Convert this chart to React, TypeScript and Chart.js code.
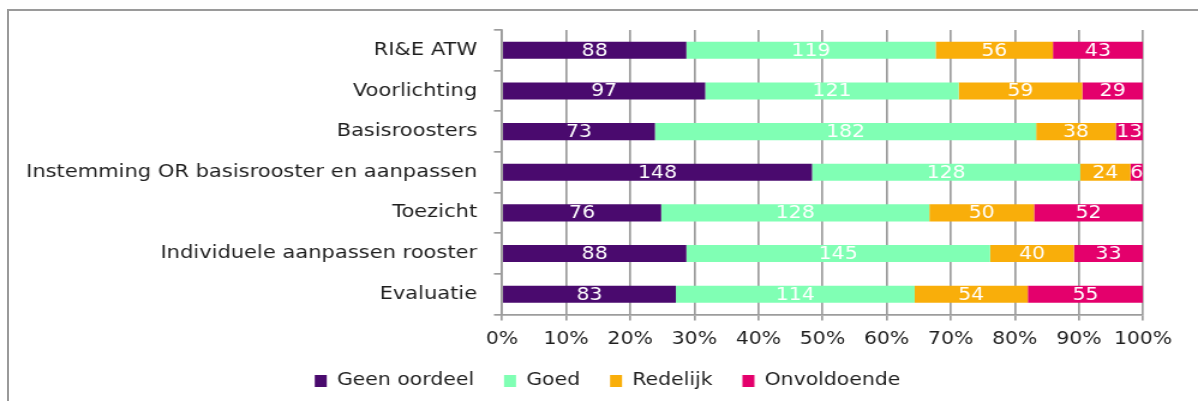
import React, { useEffect, useRef } from 'react';
import { Chart, registerables } from 'chart.js';

Chart.register(...registerables);

// ---- data ----
const categories = [
  'RI&E ATW',
  'Voorlichting',
  'Basisroosters',
  'Instemming OR basisrooster en aanpassen',
  'Toezicht',
  'Individuele aanpassen rooster',
  'Evaluatie',
];
const geenOordeel = [88, 97, 73, 148, 76, 88, 83];
const goed = [119, 121, 182, 128, 128, 145, 114];
const redelijk = [56, 59, 38, 24, 50, 40, 54];
const onvoldoende = [43, 29, 13, 6, 52, 33, 55];
const seriesNames = ['Geen oordeel', 'Goed', 'Redelijk', 'Onvoldoende'];
const seriesColors = ['#4A0A6E', '#80FFB4', '#F9AE0A', '#E4006C'];
const xTickLabels = ['0%', '10%', '20%', '30%', '40%', '50%', '60%', '70%', '80%', '90%', '100%'];

const rawSeries = [geenOordeel, goed, redelijk, onvoldoende];

// ---- layout constants (canvas is drawn narrower and stretched horizontally) ----
const FULL_W = 1198;
const H = 401;
const W = 998;
const S = FULL_W / W;
const FONT = '"DejaVu Sans", sans-serif';
const TEXT = '#1e1e1e';
const GRID = '#9c9c9c';

const valueLabels = {
  id: 'valueLabels',
  afterDatasetsDraw(chart: any) {
    const ctx = chart.ctx;
    ctx.save();
    ctx.font = `17px ${FONT}`;
    ctx.fillStyle = '#ffffff';
    ctx.textAlign = 'center';
    ctx.textBaseline = 'middle';
    chart.data.datasets.forEach((_ds: any, di: number) => {
      const meta = chart.getDatasetMeta(di);
      meta.data.forEach((bar: any, i: number) => {
        const p = bar.getProps(['x', 'y', 'base'], true);
        ctx.fillText(String(rawSeries[di][i]), (p.x + p.base) / 2, p.y + 1);
      });
    });
    ctx.restore();
  },
};

// shift the legend so it is centred on the whole picture, not on the padded box
const legendShift = {
  id: 'legendShift',
  afterLayout(chart: any) {
    const lg = chart.legend;
    if (!lg) return;
    const dx = 30;
    lg.left += dx;
    lg.right += dx;
  },
};

export default function App() {
  const ref = useRef<HTMLCanvasElement | null>(null);

  useEffect(() => {
    if (!ref.current) return;
    const totals = categories.map((_, i) => rawSeries.reduce((s, arr) => s + arr[i], 0));
    const chart = new Chart(ref.current, {
      type: 'bar',
      data: {
        labels: categories,
        datasets: rawSeries.map((arr, di) => ({
          label: seriesNames[di],
          data: arr.map((v, i) => (v / totals[i]) * 100),
          backgroundColor: seriesColors[di],
          borderWidth: 0,
          barPercentage: 0.42,
          categoryPercentage: 1,
        })),
      },
      options: {
        indexAxis: 'y',
        responsive: false,
        animation: false,
        events: [],
        layout: { padding: { top: 30, right: W - 1143 / S, bottom: 1.5, left: 0 } },
        plugins: {
          tooltip: { enabled: false },
          title: { display: false },
          legend: {
            position: 'bottom',
            align: 'center',
            labels: {
              boxWidth: 10,
              boxHeight: 12,
              padding: 25,
              color: TEXT,
              font: { family: FONT, size: 17 },
            },
          },
        },
        scales: {
          x: {
            stacked: true,
            min: 0,
            max: 100,
            ticks: {
              stepSize: 10,
              padding: 9,
              maxRotation: 0,
              minRotation: 0,
              autoSkip: false,
              color: TEXT,
              font: { family: FONT, size: 17 },
              callback: (_v: any, i: number) => xTickLabels[i],
            },
            grid: {
              display: true,
              drawOnChartArea: true,
              drawTicks: true,
              color: GRID,
              lineWidth: 1.7,
              tickLength: 6,
            },
            border: { display: true, color: GRID, width: 1.7 },
            afterFit: (s: any) => {
              s.height = 33;
            },
          },
          y: {
            stacked: true,
            ticks: {
              padding: 14,
              color: TEXT,
              font: { family: FONT, size: 17.5 },
            },
            grid: { drawOnChartArea: false, drawTicks: true, color: GRID, lineWidth: 1.7, tickLength: 6.7 },
            border: { display: true, color: GRID, width: 1.7 },
            afterFit: (s: any) => {
              s.width = 502 / S;
            },
          },
        },
      },
      plugins: [valueLabels, legendShift],
    } as any);
    return () => chart.destroy();
  }, []);

  return (
    <div
      style={{
        position: 'absolute',
        left: 0,
        top: 0,
        width: FULL_W,
        height: H,
        overflow: 'hidden',
        background: '#ffffff',
      }}
    >
      <div
        style={{
          position: 'absolute',
          left: 7,
          top: 9,
          width: 1400,
          height: 600,
          borderLeft: '2px solid #9a9a9a',
          borderTop: '2px solid #9a9a9a',
        }}
      />
      <canvas
        ref={ref}
        width={W}
        height={H}
        style={{
          position: 'absolute',
          left: 0,
          top: 0,
          width: W,
          height: H,
          transform: `scaleX(${S})`,
          transformOrigin: '0 0',
        }}
      />
    </div>
  );
}
